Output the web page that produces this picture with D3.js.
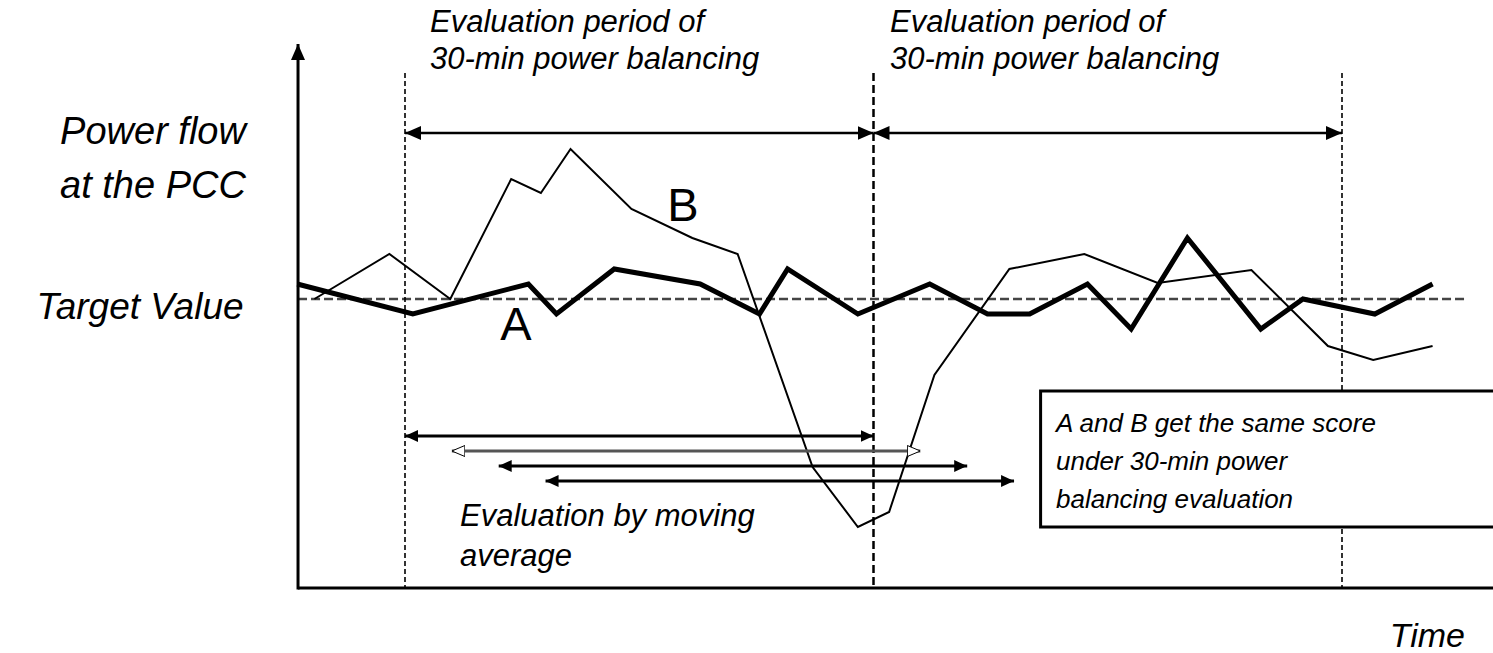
<!DOCTYPE html>
<html>
<head>
<meta charset="utf-8">
<script src="https://cdn.jsdelivr.net/npm/d3@7"></script>
<style>
    body { margin: 0; background: #fff; }
    svg { display: block; }
    text { font-family: "Liberation Sans", Arial, sans-serif; fill: #000; }
    .it { font-style: italic; }
</style>
</head>
<body>
<div id="chart"></div>
<script>
// Time in minutes, power as deviation from the target value
const timeA = [23.1, 30.5, 37.9, 39.7, 43.4, 48.9, 52.7, 54.5, 59.0, 63.6, 67.3, 70.0, 73.7, 76.5, 80.1, 84.8, 87.5, 92.1, 95.8];
const powerA = [0.15, -0.15, 0.15, -0.15, 0.30, 0.15, -0.15, 0.30, -0.15, 0.15, -0.15, -0.15, 0.15, -0.30, 0.61, -0.30, 0.0, -0.15, 0.15];

const timeB = [24.2, 29.0, 32.9, 36.8, 38.7, 40.6, 44.5, 48.4, 51.3, 56.1, 59.0, 61.0, 63.9, 68.7, 73.5, 78.2, 84.2, 89.1, 92.0, 95.8];
const powerB = [0.0, 0.45, 0.0, 1.20, 1.06, 1.50, 0.90, 0.61, 0.45, -1.68, -2.28, -2.13, -0.76, 0.30, 0.45, 0.16, 0.29, -0.47, -0.61, -0.47];

// 30-min evaluation periods and moving average windows
const periodBounds = [30, 60, 90];
const windowStarts = [30, 33, 36, 39];
const windowLevels = [-1.37, -1.52, -1.67, -1.82];
const windowLength = 30;

const periodLabel = ["Evaluation period of", "30-min power balancing"];
const yLabel = ["Power flow", "at the PCC"];
const boxLabel = ["A and B get the same score", "under 30-min power", "balancing evaluation"];
const movingLabel = ["Evaluation by moving", "average"];

const W = 1493, H = 653;

const svg = d3.select("#chart").append("svg")
    .attr("width", W)
    .attr("height", H);

const x = d3.scaleLinear().domain([30, 90]).range([405, 1342]);
const y = d3.scaleLinear().domain([-1, 1]).range([399, 199]);

const t0 = 23.15, tEnd = 100;
const vBottom = -2.89, vTop = 2.55;

// markers
const defs = svg.append("defs");
function marker(id, len, wid, fill, stroke) {
    defs.append("marker")
        .attr("id", id)
        .attr("markerUnits", "userSpaceOnUse")
        .attr("viewBox", `0 0 ${len} ${wid}`)
        .attr("refX", len)
        .attr("refY", wid / 2)
        .attr("markerWidth", len)
        .attr("markerHeight", wid)
        .attr("orient", "auto-start-reverse")
        .append("path")
        .attr("d", `M0,${stroke ? 0.5 : 0}L${len},${wid / 2}L0,${wid - (stroke ? 0.5 : 0)}Z`)
        .attr("fill", fill)
        .attr("stroke", stroke || "none")
        .attr("stroke-width", 1);
}
marker("headBig", 16, 14, "#000");
marker("headMid", 13, 12, "#000");
marker("headOpen", 13, 12, "#fff", "#000");

// target value line
svg.append("line")
    .attr("x1", x(t0)).attr("x2", x(98))
    .attr("y1", y(0)).attr("y2", y(0))
    .attr("stroke", "#444")
    .attr("stroke-width", 2.5)
    .attr("stroke-dasharray", "9,4");

// period boundaries
svg.selectAll(".bound")
    .data(periodBounds)
    .join("line")
    .attr("class", "bound")
    .attr("x1", d => x(d)).attr("x2", d => x(d))
    .attr("y1", y(2.26)).attr("y2", y(vBottom))
    .attr("stroke", "#000")
    .attr("stroke-width", (d, i) => i === 1 ? 2.5 : 1.6)
    .attr("stroke-dasharray", (d, i) => i === 1 ? "8,4" : "5,3");

// period arrows
svg.selectAll(".period")
    .data(periodBounds.slice(0, -1))
    .join("line")
    .attr("class", "period")
    .attr("x1", d => x(d)).attr("x2", d => x(d + windowLength))
    .attr("y1", y(1.66)).attr("y2", y(1.66))
    .attr("stroke", "#000")
    .attr("stroke-width", 2.5)
    .attr("marker-start", "url(#headBig)")
    .attr("marker-end", "url(#headBig)");

// lines A and B
const lineGen = d3.line().x(d => x(d[0])).y(d => y(d[1]));
svg.append("path")
    .attr("d", lineGen(d3.zip(timeB, powerB)))
    .attr("fill", "none")
    .attr("stroke", "#000")
    .attr("stroke-width", 2);
svg.append("path")
    .attr("d", lineGen(d3.zip(timeA, powerA)))
    .attr("fill", "none")
    .attr("stroke", "#000")
    .attr("stroke-width", 5);

// moving average windows
svg.selectAll(".win")
    .data(windowStarts)
    .join("line")
    .attr("class", "win")
    .attr("x1", d => x(d)).attr("x2", d => x(d + windowLength))
    .attr("y1", (d, i) => y(windowLevels[i])).attr("y2", (d, i) => y(windowLevels[i]))
    .attr("stroke", (d, i) => i === 1 ? "#555" : "#000")
    .attr("stroke-width", 3)
    .attr("marker-start", (d, i) => i === 1 ? "url(#headOpen)" : "url(#headMid)")
    .attr("marker-end", (d, i) => i === 1 ? "url(#headOpen)" : "url(#headMid)");

// axes
svg.append("line")
    .attr("x1", x(t0)).attr("x2", x(tEnd))
    .attr("y1", y(vBottom)).attr("y2", y(vBottom))
    .attr("stroke", "#000").attr("stroke-width", 3);
svg.append("line")
    .attr("x1", x(t0)).attr("x2", x(t0))
    .attr("y1", y(vBottom) + 1.5).attr("y2", y(vTop))
    .attr("stroke", "#000").attr("stroke-width", 3)
    .attr("marker-end", "url(#headBig)");

// note box
svg.append("rect")
    .attr("x", x(70.7)).attr("y", y(-0.92))
    .attr("width", 600).attr("height", y(-2.28) - y(-0.92))
    .attr("fill", "#fff")
    .attr("stroke", "#000")
    .attr("stroke-width", 3);

svg.append("text")
    .attr("class", "it")
    .attr("font-size", 26)
    .selectAll("tspan")
    .data(boxLabel)
    .join("tspan")
    .attr("x", 1056)
    .attr("y", (d, i) => 432 + i * 38)
    .text(d => d);

// text labels
function block(lines, xPos, yPos, size, gap, anchor) {
    svg.append("text")
        .attr("class", "it")
        .attr("font-size", size)
        .attr("text-anchor", anchor || "start")
        .selectAll("tspan")
        .data(lines)
        .join("tspan")
        .attr("x", xPos)
        .attr("y", (d, i) => yPos + i * gap)
        .text(d => d);
}
block(periodLabel, 430, 32, 31, 37);
block(periodLabel, 890, 32, 31, 37);
block(yLabel, 153, 144, 38, 54, "middle");
block(["Target Value"], 140, 319, 37, 0, "middle");
block(movingLabel, 460, 526, 31, 40);
block(["Time"], 1465, 647, 34, 0, "end");

// curve names
svg.append("text")
    .attr("x", 516).attr("y", 340)
    .attr("font-size", 47)
    .attr("text-anchor", "middle")
    .text("A");
svg.append("text")
    .attr("x", 683).attr("y", 221)
    .attr("font-size", 47)
    .attr("text-anchor", "middle")
    .text("B");
</script>
</body>
</html>
